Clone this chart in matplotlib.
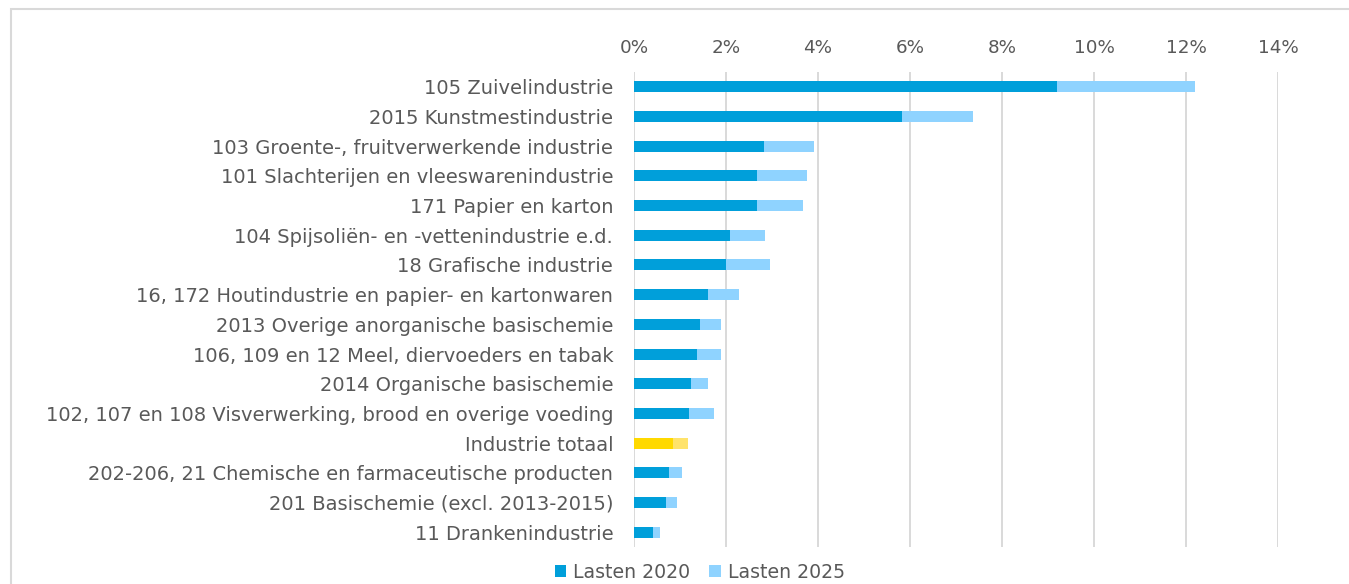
import matplotlib.pyplot as plt
from matplotlib.patches import Rectangle
from matplotlib.ticker import FuncFormatter
import numpy as np

categories = [
    "105 Zuivelindustrie",
    "2015 Kunstmestindustrie",
    "103 Groente-, fruitverwerkende industrie",
    "101 Slachterijen en vleeswarenindustrie",
    "171 Papier en karton",
    "104 Spijsoliën- en -vettenindustrie e.d.",
    "18 Grafische industrie",
    "16, 172 Houtindustrie en papier- en kartonwaren",
    "2013 Overige anorganische basischemie",
    "106, 109 en 12 Meel, diervoeders en tabak",
    "2014 Organische basischemie",
    "102, 107 en 108 Visverwerking, brood en overige voeding",
    "Industrie totaal",
    "202-206, 21 Chemische en farmaceutische producten",
    "201 Basischemie (excl. 2013-2015)",
    "11 Drankenindustrie",
]
# lasten in % (2025 = cumulatief niveau)
lasten_2020 = [9.20, 5.82, 2.83, 2.68, 2.68, 2.09, 2.00, 1.61, 1.44, 1.37, 1.24, 1.20, 0.85, 0.77, 0.70, 0.41]
lasten_2025 = [12.19, 7.38, 3.92, 3.76, 3.68, 2.84, 2.96, 2.28, 1.89, 1.89, 1.61, 1.73, 1.17, 1.05, 0.94, 0.57]
highlight = "Industrie totaal"

DARK = "#009FDA"
LIGHT = "#8FD3FF"
YELLOW = "#FFD900"
LIGHT_YELLOW = "#FFE36B"
TXT = "#595959"
FS = 13.6

plt.rcParams["font.family"] = ["DejaVu Sans"]

fig = plt.figure(figsize=(13.49, 5.84), dpi=100)
ax = fig.add_axes([634 / 1349, 1 - 547 / 584, (1278 - 634) / 1349, (547 - 72) / 584])

y = np.arange(len(categories))
c20 = [YELLOW if c == highlight else DARK for c in categories]
c25 = [LIGHT_YELLOW if c == highlight else LIGHT for c in categories]
extra = np.array(lasten_2025) - np.array(lasten_2020)

ax.barh(y, lasten_2020, height=0.37, color=c20, label="Lasten 2020", zorder=3)
ax.barh(y, extra, left=lasten_2020, height=0.37, color=c25, label="Lasten 2025", zorder=3)

ax.set_xlim(0, 14)
ax.set_ylim(len(categories) - 0.5, -0.5)
ax.set_xticks(range(0, 15, 2))
ax.xaxis.set_major_formatter(FuncFormatter(lambda v, p: f"{v:.0f}%"))
ax.xaxis.tick_top()
ax.tick_params(axis="x", length=0, pad=11, labelsize=13.2, labelcolor=TXT)
ax.set_yticks(y)
ax.set_yticklabels(categories)
ax.tick_params(axis="y", length=0, pad=15, labelsize=14, labelcolor=TXT)
ax.grid(axis="x", color="#D9D9D9", linewidth=1.4, zorder=0)
for s in ax.spines.values():
    s.set_visible(False)

ax.legend(loc="center", bbox_to_anchor=(700 / 1349, 1 - 572 / 584),
          bbox_transform=fig.transFigure, ncol=2, frameon=False,
          fontsize=FS, labelcolor=TXT, handlelength=0.6, handleheight=0.6,
          handletextpad=0.4, columnspacing=1.0)

fig.add_artist(Rectangle((11.5 / 1349, -0.1), 1.2, 1.1 - 9.5 / 584,
                         transform=fig.transFigure, fill=False,
                         edgecolor="#D9D9D9", linewidth=1.5))

fig.savefig("out.png", dpi=100)
